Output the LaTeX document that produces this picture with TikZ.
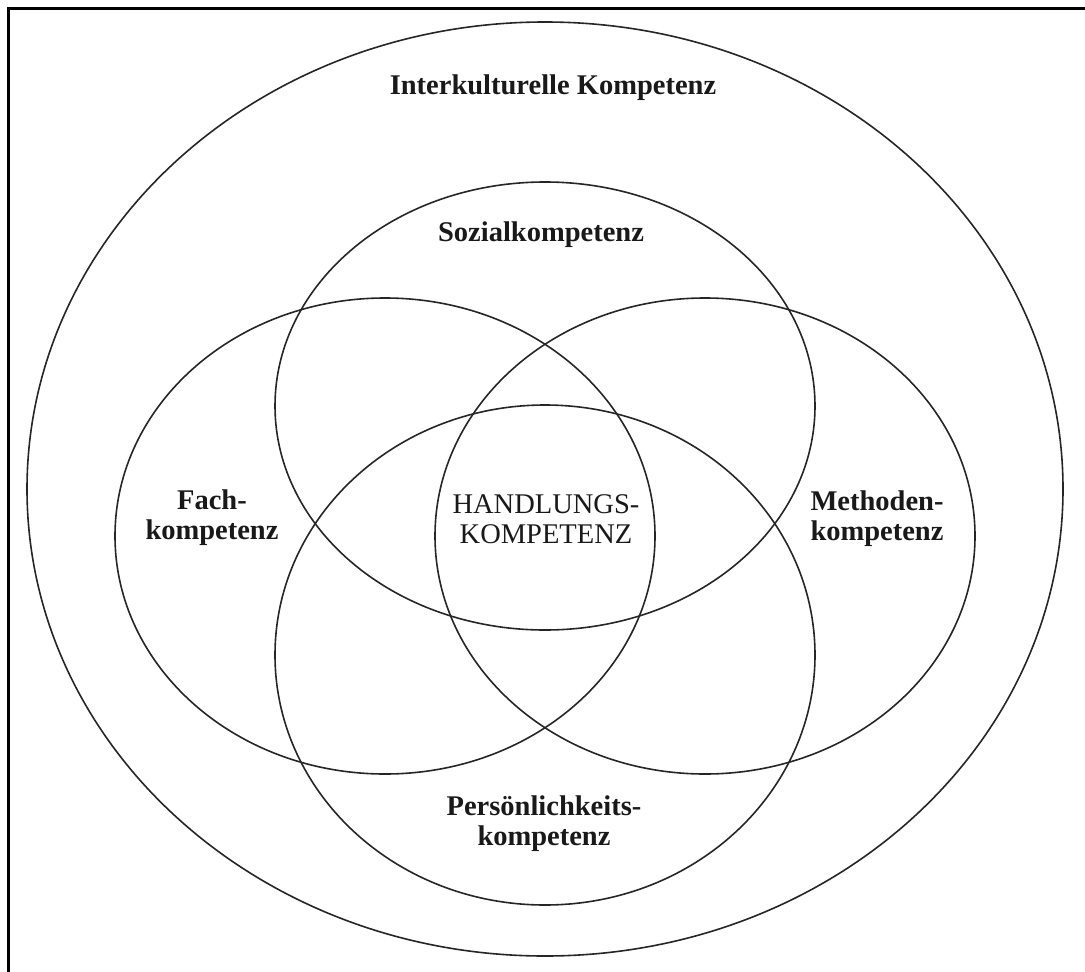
\documentclass[tikz,border=0pt]{standalone}
\usepackage{fontspec}
\setmainfont{Liberation Serif}
\begin{document}
\begin{tikzpicture}[x=1pt,y=-1pt,
  ring/.style={draw=black!85,line width=1.6pt},
  lbl/.style={font=\fontsize{28.5}{30}\selectfont\bfseries,align=center,inner sep=0pt,text=black!90},
  lblr/.style={font=\fontsize{28.5}{30}\selectfont,align=center,inner sep=0pt,text=black!90}]
\useasboundingbox (0,0) rectangle (1085,972);
\draw[line width=3pt] (8,972) -- (8,8) -- (1085,8);
% outer
\draw[ring] (545,489) ellipse [x radius=518, y radius=467];
% four circles
\draw[ring] (545,406) ellipse [x radius=270, y radius=224];
\draw[ring] (385,536) ellipse [x radius=270, y radius=238];
\draw[ring] (705,536) ellipse [x radius=270, y radius=238];
\draw[ring] (545,655) ellipse [x radius=270, y radius=250];
% labels
\node[lbl] (ik) at (553,88) {Interkulturelle Kompetenz};
\node[lbl] (soz) at (541,235) {Sozialkompetenz};
\node[lbl] (fach) at (212,518) {Fach-\\kompetenz};
\node[lbl] (meth) at (877,519) {Methoden-\\kompetenz};
\node[lblr] (hand) at (546,519) {HANDLUNGS-\\KOMPETENZ};
\node[lbl] (pers) at (544,824) {Persönlichkeits-\\kompetenz};
\end{tikzpicture}
\end{document}
